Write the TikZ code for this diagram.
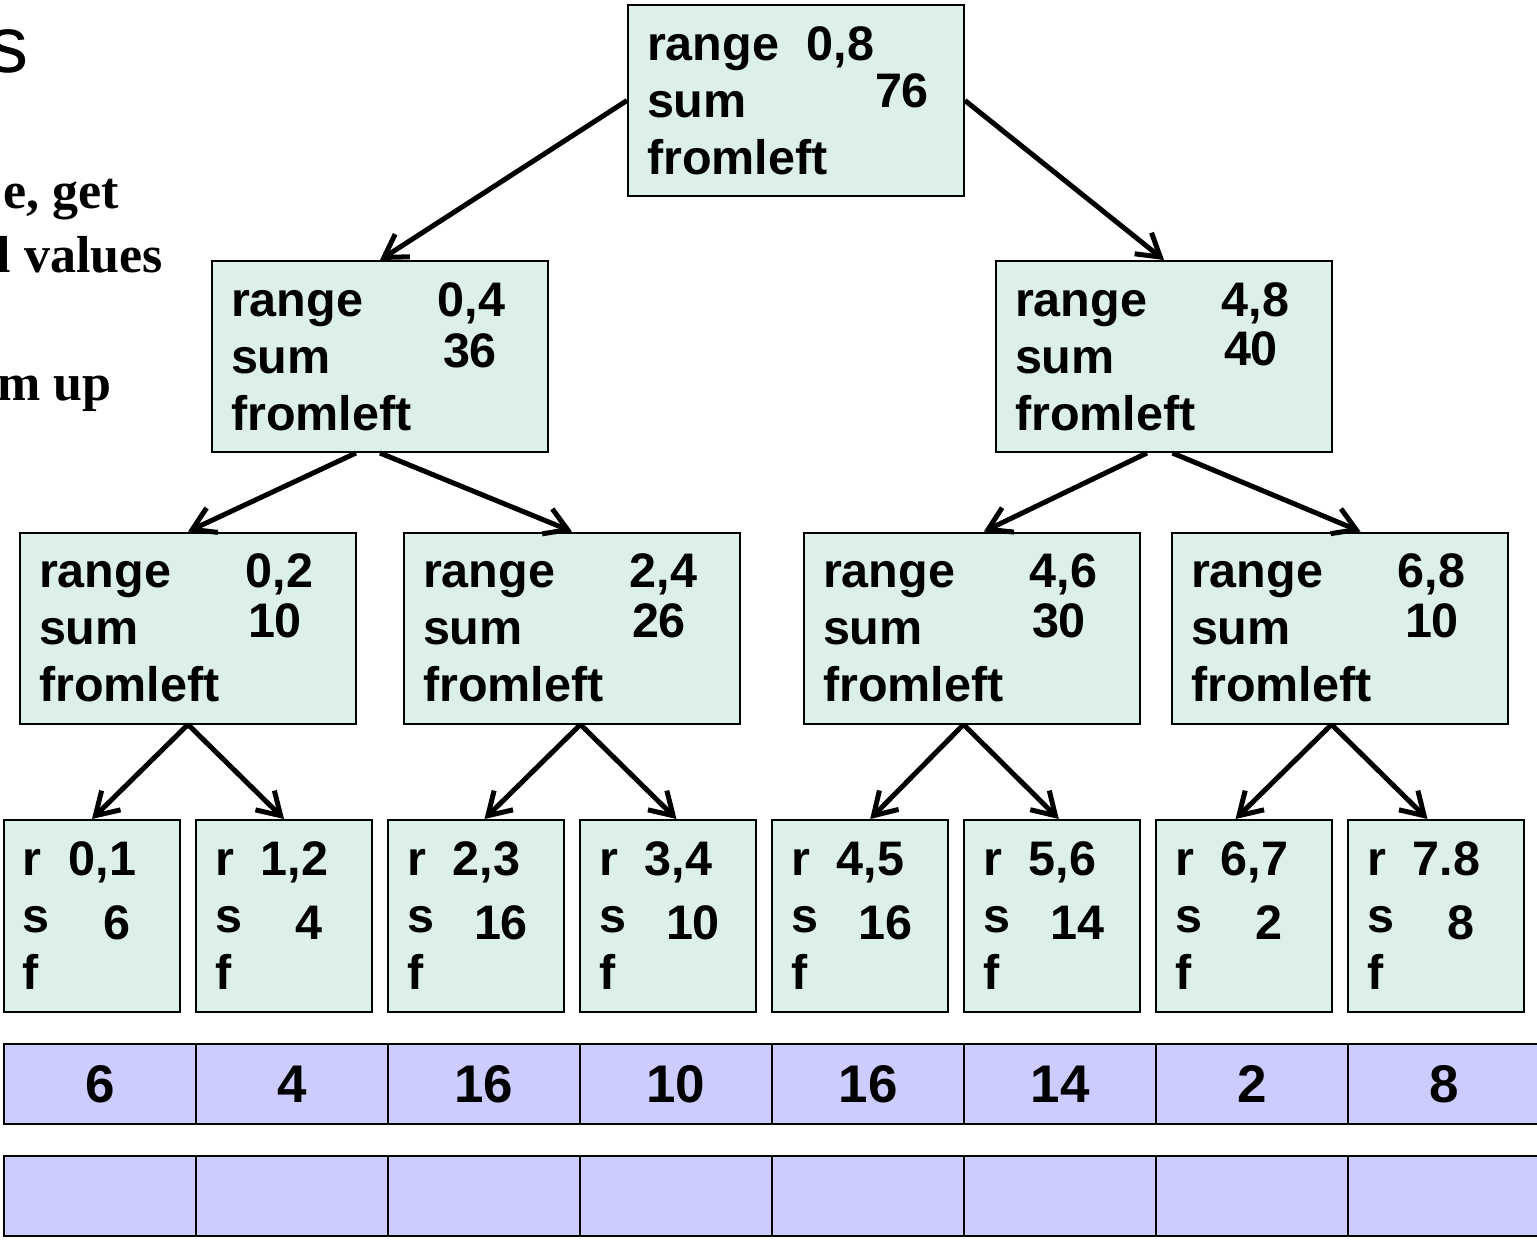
\documentclass[tikz,border=0pt]{standalone}
\usepackage{fontspec}
\setmainfont{Liberation Sans}
\newfontfamily\sideserif{Liberation Serif}
\usetikzlibrary{arrows.meta}
\definecolor{boxgreen}{RGB}{221,240,232}
\definecolor{cellblue}{RGB}{204,204,255}
\tikzset{
  treebox/.style={draw,line width=2pt,fill=boxgreen,text width=298pt,
    minimum height=191pt,inner xsep=19pt,inner ysep=0pt,align=left,
    font=\bfseries\fontsize{48.5}{57}\selectfont},
  leafbox/.style={treebox,text width=138pt,minimum height=192pt},
  cell/.style={draw,line width=2pt,fill=cellblue,minimum width=192pt,
    minimum height=80pt,inner sep=0pt,font=\bfseries\fontsize{53}{60}\selectfont},
  edge/.style={line width=5pt,-{Straight Barb[length=22pt,width=27pt]}},
  sidetext/.style={anchor=base east,inner sep=0pt,
    font=\sideserif\bfseries\fontsize{52}{64}\selectfont}
}
\begin{document}
\begin{tikzpicture}[x=1pt,y=-1pt]
\useasboundingbox (0,0) rectangle (1537,1240);
\clip (0,0) rectangle (1537,1240);

% text cut off at the left edge
\node[anchor=base east,inner sep=0pt,font=\fontsize{80}{80}\selectfont] (title) at (29,72) {s};
\node[sidetext] (side1) at (119,208) {e, get};
\node[sidetext] (side2) at (163,272) {l values};
\node[sidetext] (side3) at (112,400) {m up};

% tree
\node[treebox] (r08) at (796,100.5)
{\makebox[160pt][l]{range}0,8\\\makebox[228pt][l]{sum}\raisebox{10pt}{76}\\fromleft};
\node[treebox] (r04) at (380,356.5)
{\makebox[207pt][l]{range}0,4\\\makebox[212pt][l]{sum}\raisebox{6pt}{36}\\fromleft};
\node[treebox] (r48) at (1164,356.5)
{\makebox[207pt][l]{range}4,8\\\makebox[209pt][l]{sum}\raisebox{8pt}{40}\\fromleft};
\node[treebox] (r02) at (188,628)
{\makebox[207pt][l]{range}0,2\\\makebox[209pt][l]{sum}\raisebox{7pt}{10}\\fromleft};
\node[treebox] (r24) at (572,628)
{\makebox[207pt][l]{range}2,4\\\makebox[209pt][l]{sum}\raisebox{7pt}{26}\\fromleft};
\node[treebox] (r46) at (972,628)
{\makebox[207pt][l]{range}4,6\\\makebox[209pt][l]{sum}\raisebox{7pt}{30}\\fromleft};
\node[treebox] (r68) at (1340,628)
{\makebox[207pt][l]{range}6,8\\\makebox[214pt][l]{sum}\raisebox{7pt}{10}\\fromleft};

% leaves
\node[leafbox] (l01) at (92,916)
{\makebox[46pt][l]{r}0,1\\\makebox[50pt][l]{s}\makebox[88pt]{\raisebox{-7pt}{6}}\\f};
\node[leafbox] (l12) at (284,916)
{\makebox[46pt][l]{r}1,2\\\makebox[50pt][l]{s}\makebox[88pt]{\raisebox{-7pt}{4}}\\f};
\node[leafbox] (l23) at (476,916)
{\makebox[46pt][l]{r}2,3\\\makebox[50pt][l]{s}\makebox[88pt]{\raisebox{-7pt}{16}}\\f};
\node[leafbox] (l34) at (668,916)
{\makebox[46pt][l]{r}3,4\\\makebox[50pt][l]{s}\makebox[88pt]{\raisebox{-7pt}{10}}\\f};
\node[leafbox] (l45) at (860,916)
{\makebox[46pt][l]{r}4,5\\\makebox[50pt][l]{s}\makebox[88pt]{\raisebox{-7pt}{16}}\\f};
\node[leafbox] (l56) at (1052,916)
{\makebox[46pt][l]{r}5,6\\\makebox[50pt][l]{s}\makebox[88pt]{\raisebox{-7pt}{14}}\\f};
\node[leafbox] (l67) at (1244,916)
{\makebox[46pt][l]{r}6,7\\\makebox[50pt][l]{s}\makebox[88pt]{\raisebox{-7pt}{2}}\\f};
\node[leafbox] (l78) at (1436,916)
{\makebox[46pt][l]{r}7.8\\\makebox[50pt][l]{s}\makebox[88pt]{\raisebox{-7pt}{8}}\\f};

\draw[edge] (r08.west) -- (r04.north);
\draw[edge] (r08.east) -- (r48.north);
\draw[edge] (r04.256) -- (r02.north);
\draw[edge] (r04.south) -- (r24.north);
\draw[edge] (r48.260) -- (r46.83);
\draw[edge] (r48.275) -- (r68.78);
\draw[edge] (r02.south) -- (l01.north);
\draw[edge] (r02.south) -- (l12.north);
\draw[edge] (r24.275) -- (l23.85);
\draw[edge] (r24.275) -- (l34.85);
\draw[edge] (r46.265) -- (l45.84);
\draw[edge] (r46.265) -- (l56.86);
\draw[edge] (r68.265) -- (l67.95);
\draw[edge] (r68.265) -- (l78.95);

% input array
\node[cell] (in1) at (100,1084) {6};
\node[cell] (in2) at (292,1084) {4};
\node[cell] (in3) at (484,1084) {16};
\node[cell] (in4) at (676,1084) {10};
\node[cell] (in5) at (868,1084) {16};
\node[cell] (in6) at (1060,1084) {14};
\node[cell] (in7) at (1252,1084) {2};
\node[cell] (in8) at (1444,1084) {8};

% output array
\node[cell] (out1) at (100,1196) {};
\node[cell] (out2) at (292,1196) {};
\node[cell] (out3) at (484,1196) {};
\node[cell] (out4) at (676,1196) {};
\node[cell] (out5) at (868,1196) {};
\node[cell] (out6) at (1060,1196) {};
\node[cell] (out7) at (1252,1196) {};
\node[cell] (out8) at (1444,1196) {};

\end{tikzpicture}
\end{document}
